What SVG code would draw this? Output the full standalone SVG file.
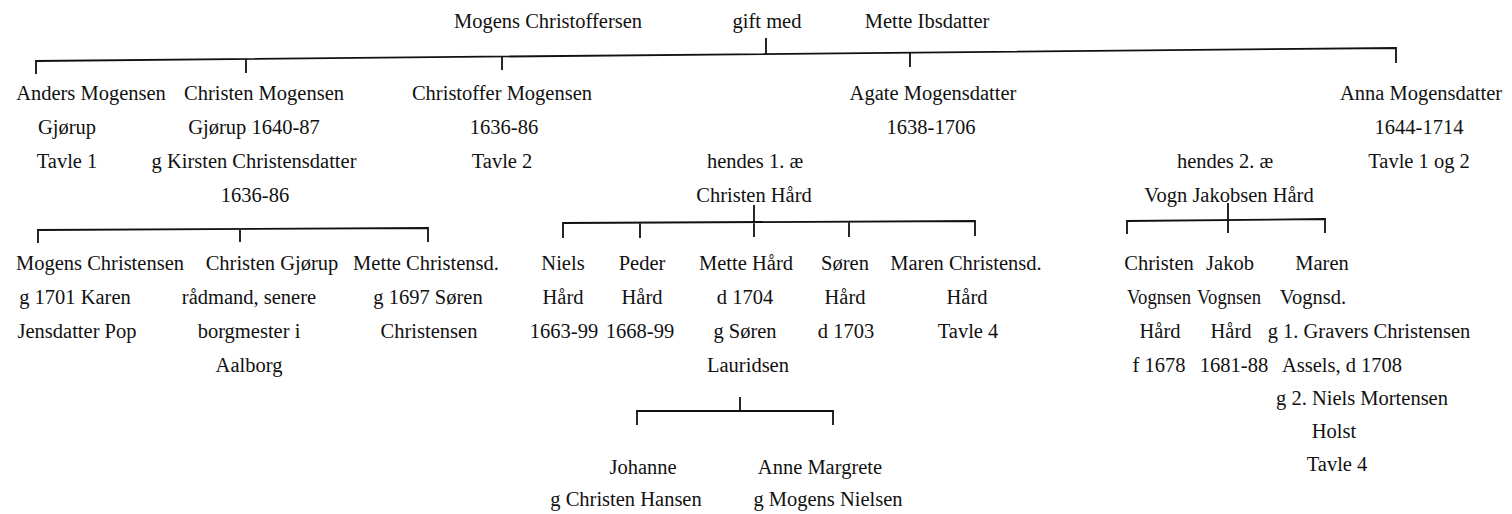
<svg xmlns="http://www.w3.org/2000/svg" width="1512" height="514" viewBox="0 0 1512 514">
<style>
text{font-family:'Liberation Serif','DejaVu Serif',serif;font-size:20.5px;fill:#111;text-anchor:middle}
.ln{stroke:#111;stroke-width:1.8;fill:none}
</style>
<rect width="1512" height="514" fill="#fff"/>
<g id="connectors">
<path class="ln" d="M36,74 V61 L1396,48 V63"/>
<path class="ln" d="M246,59 V73 M502,56.5 V70 M766,38 V54 M910,52.6 V67"/>
<path class="ln" d="M38,243 V230 L428,228 V242 M240,229 V242"/>
<path class="ln" d="M563,238 V223 L975,221 V236 M640,223 V238 M754,205 V237 M849,222 V237"/>
<path class="ln" d="M1127,234 V221 L1325,219 V233 M1228,203 V233"/>
<path class="ln" d="M740,397 V411 M637,425 V411 H833 V425"/>
</g>
<g font-family="Liberation Serif, serif">
<g id="mogens"><text x="548" y="28">Mogens Christoffersen</text></g>
<g id="giftmed"><text x="767" y="28">gift med</text></g>
<g id="mette"><text x="927" y="28">Mette Ibsdatter</text></g>
<g id="anders"><text x="91" y="100">Anders Mogensen</text><text x="67" y="134">Gjørup</text><text x="67" y="168">Tavle 1</text></g>
<g id="christen"><text x="264" y="100">Christen Mogensen</text><text x="254" y="134">Gjørup 1640-87</text><text x="254" y="168">g Kirsten Christensdatter</text><text x="255" y="202">1636-86</text></g>
<g id="christoffer"><text x="502" y="100">Christoffer Mogensen</text><text x="504" y="134">1636-86</text><text x="502" y="168">Tavle 2</text></g>
<g id="agate"><text x="933" y="100">Agate Mogensdatter</text><text x="931" y="134">1638-1706</text></g>
<g id="anna"><text x="1421" y="100">Anna Mogensdatter</text><text x="1419" y="134">1644-1714</text><text x="1419" y="168">Tavle 1 og 2</text></g>
<g id="husband1"><text x="755" y="168">hendes 1. æ</text><text x="754" y="202">Christen Hård</text></g>
<g id="husband2"><text x="1225" y="168">hendes 2. æ</text><text x="1229" y="202">Vogn Jakobsen Hård</text></g>
<g id="mogensC"><text x="100" y="270">Mogens Christensen</text><text x="75" y="304">g 1701 Karen</text><text x="77" y="338">Jensdatter Pop</text></g>
<g id="christenG"><text x="272" y="270">Christen Gjørup</text><text x="249" y="304">rådmand, senere</text><text x="249" y="338">borgmester i</text><text x="249" y="372">Aalborg</text></g>
<g id="metteC"><text x="426" y="270">Mette Christensd.</text><text x="428" y="304">g 1697 Søren</text><text x="429" y="338">Christensen</text></g>
<g id="niels"><text x="563" y="270">Niels</text><text x="563" y="304">Hård</text><text x="564" y="338">1663-99</text></g>
<g id="peder"><text x="642" y="270">Peder</text><text x="642" y="304">Hård</text><text x="640" y="338">1668-99</text></g>
<g id="metteH"><text x="746" y="270">Mette Hård</text><text x="745" y="304">d 1704</text><text x="745" y="338">g Søren</text><text x="748" y="372">Lauridsen</text></g>
<g id="soren"><text x="845" y="270">Søren</text><text x="845" y="304">Hård</text><text x="846" y="338">d 1703</text></g>
<g id="maren1"><text x="966" y="270">Maren Christensd.</text><text x="967" y="304">Hård</text><text x="968" y="338">Tavle 4</text></g>
<g id="christenV"><text x="1159" y="270">Christen</text><text x="1159" y="304" textLength="64" lengthAdjust="spacingAndGlyphs">Vognsen</text><text x="1160" y="338">Hård</text><text x="1159" y="372">f 1678</text></g>
<g id="jakob"><text x="1230" y="270">Jakob</text><text x="1229" y="304" textLength="64" lengthAdjust="spacingAndGlyphs">Vognsen</text><text x="1231" y="338">Hård</text><text x="1234" y="372">1681-88</text></g>
<g id="maren2"><text x="1322" y="270">Maren</text><text x="1313" y="304">Vognsd.</text><text x="1369" y="338">g 1. Gravers Christensen</text><text x="1342" y="372">Assels, d 1708</text><text x="1362" y="405">g 2. Niels Mortensen</text><text x="1334" y="438">Holst</text><text x="1337" y="471">Tavle 4</text></g>
<g id="johanne"><text x="643" y="474">Johanne</text><text x="626" y="506">g Christen Hansen</text></g>
<g id="anne"><text x="820" y="474">Anne Margrete</text><text x="828" y="506">g Mogens Nielsen</text></g>
</g>
</svg>
